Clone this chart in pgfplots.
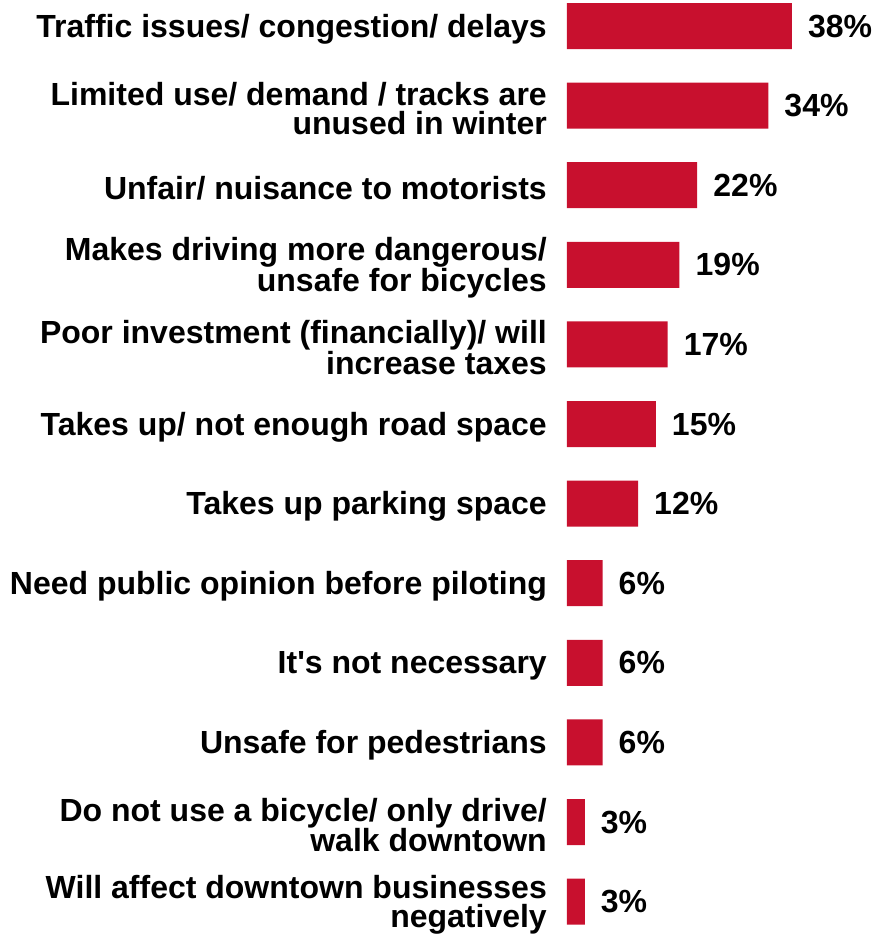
\documentclass[border=0pt]{standalone}
\usepackage{pgfplots}
\pgfplotsset{compat=1.18}
\usepackage{fontspec}
\setmainfont{Liberation Sans}
\definecolor{barred}{RGB}{200,16,46}
\begin{document}
\begin{tikzpicture}[x=1pt,y=1pt]
\useasboundingbox (-567,0) rectangle (308,934);
\begin{axis}[
  at={(0,0)}, anchor=south west,
  scale only axis, width=308pt, height=934pt,
  xbar, bar width=46pt,
  xmin=0, xmax=52.03,
  ymin=-0.327, ymax=11.407, y dir=reverse,
  hide x axis,
  axis y line*=left,
  y axis line style={draw=none},
  major tick length=0pt,
  clip=false,
  /pgf/number format/assume math mode=true,
  ytick={0,1,2,3,4,5,6,7,8,9,10,11},
  yticklabels={
    {Traffic issues/ congestion/ delays},
    {Limited use/ demand / tracks are\\unused in winter},
    {Unfair/ nuisance to motorists},
    {Makes driving more dangerous/\\unsafe for bicycles},
    {Poor investment (financially)/ will\\increase taxes},
    {Takes up/ not enough road space},
    {Takes up parking space},
    {Need public opinion before piloting},
    {It\textquotesingle s not necessary},
    {Unsafe for pedestrians},
    {Do not use a bicycle/ only drive/\\walk downtown},
    {Will affect downtown businesses\\negatively}},
  yticklabel style={align=right, inner sep=0pt, xshift=-20pt, yshift=-3pt,
    font=\bfseries\fontsize{32}{29.5}\selectfont},
  nodes near coords={\pgfmathprintnumber{\pgfplotspointmeta}\%},
  every node near coord/.append style={anchor=west, inner sep=0pt, xshift=16pt,
    font=\bfseries\fontsize{32}{29}\selectfont, text=black},
]
\addplot[fill=barred, draw=none] coordinates {
  (38,0) (34,1) (22,2) (19,3) (17,4) (15,5) (12,6) (6,7) (6,8) (6,9) (3,10) (3,11)
};
\end{axis}
\end{tikzpicture}
\end{document}
